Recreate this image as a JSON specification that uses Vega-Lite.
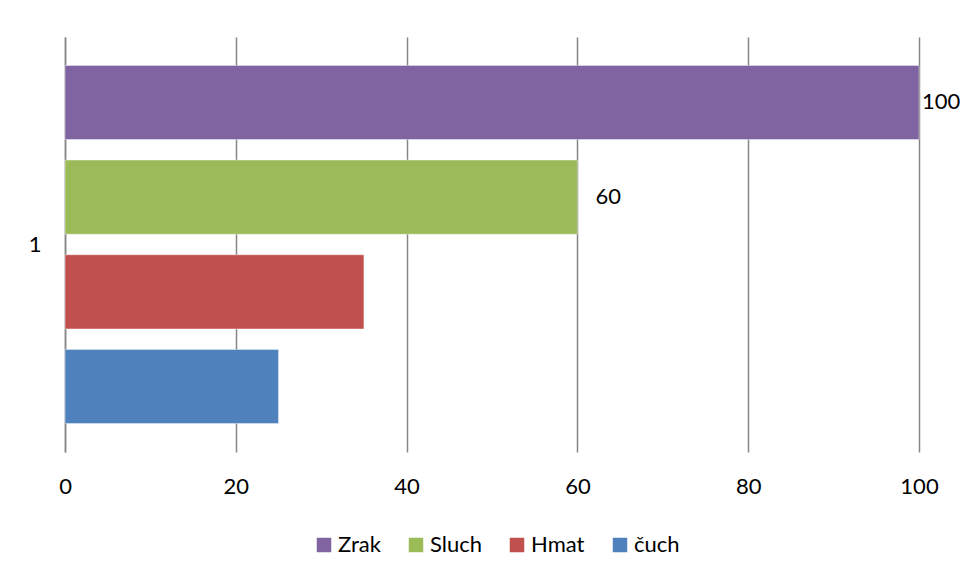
{
  "$schema": "https://vega.github.io/schema/vega-lite/v6.json",
  "width": 854,
  "height": 415,
  "autosize": "none",
  "padding": {"left": 65, "top": 37, "right": 43, "bottom": 129},
  "background": "white",
  "config": {
    "font": "Lato",
    "view": {"stroke": null},
    "axis": {"labelFont": "Lato", "labelFontSize": 22, "labelColor": "#000000"},
    "legend": {"labelFont": "Lato", "labelFontSize": 22, "labelColor": "#000000"}
  },
  "data": {
    "values": [
      {"kategorie": "1", "smysl": "Zrak", "hodnota": 100},
      {"kategorie": "1", "smysl": "Sluch", "hodnota": 60},
      {"kategorie": "1", "smysl": "Hmat", "hodnota": 35},
      {"kategorie": "1", "smysl": "čuch", "hodnota": 25}
    ]
  },
  "encoding": {
    "y": {
      "field": "kategorie",
      "type": "nominal",
      "title": null,
      "scale": {"paddingInner": 0, "paddingOuter": 0},
      "axis": {"ticks": false, "domainColor": "#868686", "domainWidth": 1.5, "labelPadding": 24, "labelAngle": 0}
    },
    "yOffset": {
      "field": "smysl",
      "type": "nominal",
      "sort": ["Zrak", "Sluch", "Hmat", "čuch"],
      "scale": {"paddingInner": 0.217, "paddingOuter": 0.3}
    },
    "x": {
      "field": "hodnota",
      "type": "quantitative",
      "title": null,
      "scale": {"domain": [0, 100], "nice": false},
      "axis": {"values": [0, 20, 40, 60, 80, 100], "domain": false, "ticks": false, "grid": true, "gridColor": "#868686", "gridWidth": 1.5, "labelPadding": 24, "labelFlush": false}
    }
  },
  "layer": [
    {
      "mark": {"type": "bar", "stroke": "white", "strokeOpacity": 0.4, "strokeWidth": 1},
      "encoding": {
        "color": {
          "field": "smysl",
          "type": "nominal",
          "title": null,
          "sort": ["Zrak", "Sluch", "Hmat", "čuch"],
          "scale": {"domain": ["Zrak", "Sluch", "Hmat", "čuch"], "range": ["#8064A2", "#9BBB59", "#C0504D", "#4F81BD"]},
          "legend": {"orient": "none", "legendX": 248, "legendY": 497, "direction": "horizontal", "symbolType": "square", "symbolSize": 210, "symbolStrokeWidth": 0, "columnPadding": 24, "labelOffset": 3}
        }
      }
    },
    {
      "transform": [{"filter": "datum.smysl === 'Zrak'"}],
      "mark": {"type": "text", "align": "left", "baseline": "middle", "dx": 3, "fontSize": 22, "font": "Lato", "color": "#000000"},
      "encoding": {"text": {"field": "hodnota", "type": "quantitative"}}
    },
    {
      "transform": [{"filter": "datum.smysl === 'Sluch'"}],
      "mark": {"type": "text", "align": "left", "baseline": "middle", "dx": 18, "fontSize": 22, "font": "Lato", "color": "#000000"},
      "encoding": {"text": {"field": "hodnota", "type": "quantitative"}}
    }
  ]
}
